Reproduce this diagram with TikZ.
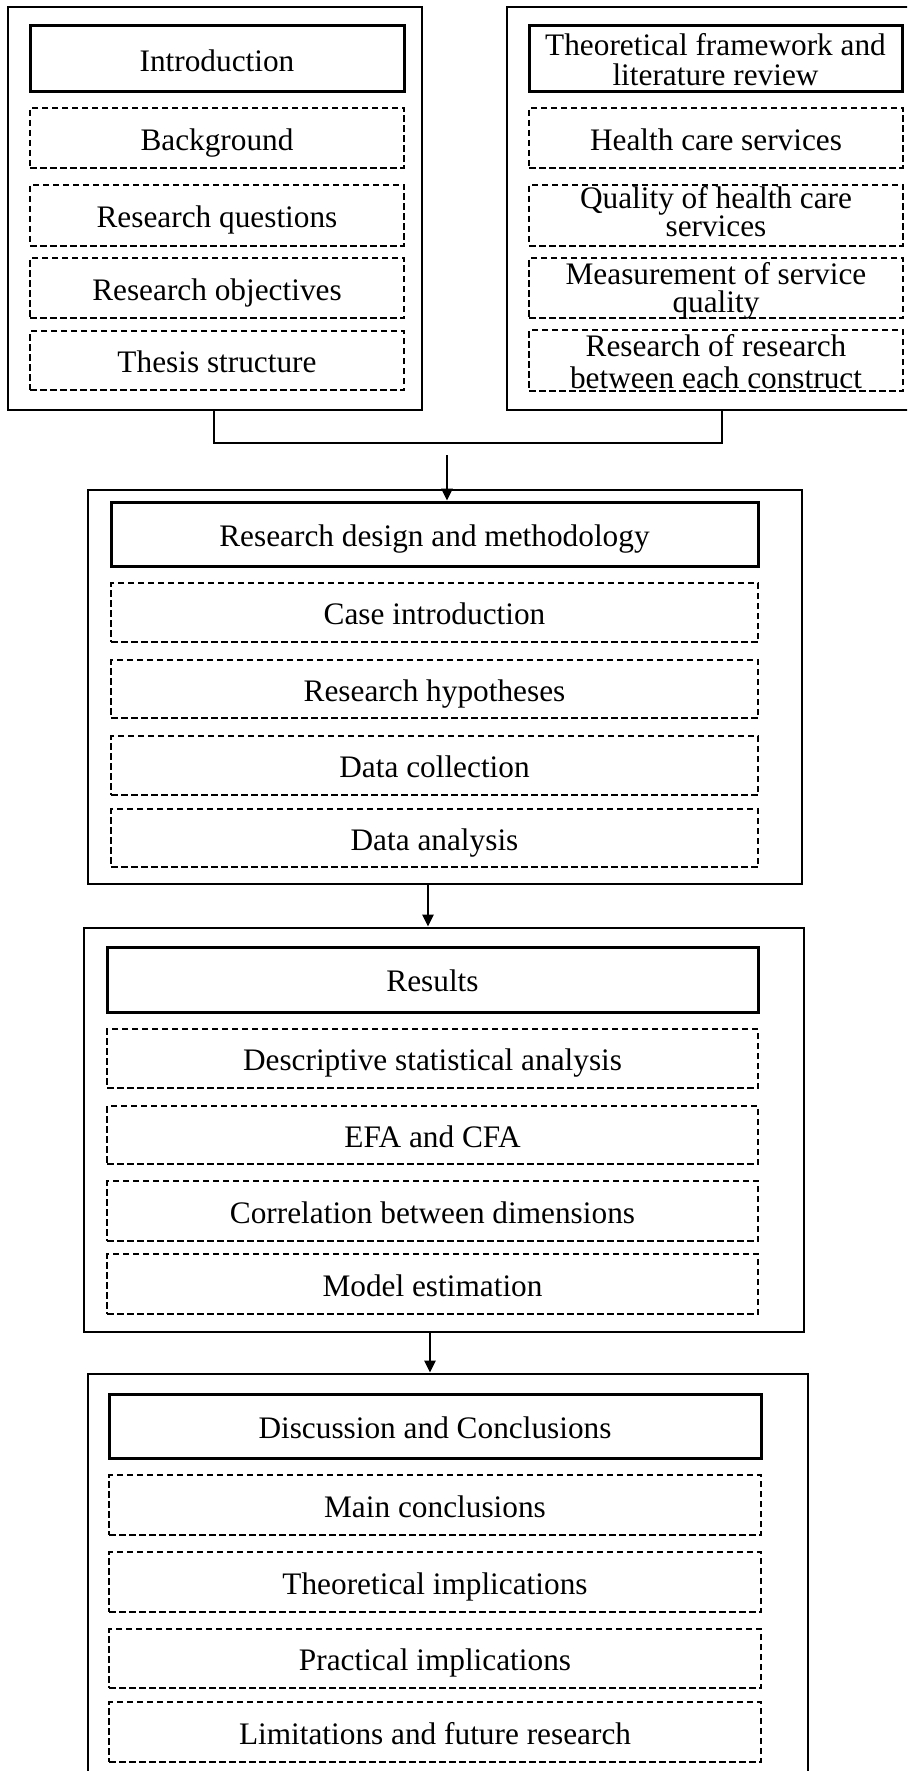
\documentclass[tikz,border=0pt]{standalone}
\usepackage{fontspec}
\setmainfont{Liberation Serif}
\usetikzlibrary{arrows.meta}
\begin{document}
\begin{tikzpicture}[x=1pt,y=-1pt,
  font=\fontsize{31.3}{30}\selectfont,
  outerbox/.style={draw, line width=2.8pt, inner sep=0pt},
  headbox/.style={draw, line width=3.0pt, inner sep=0pt, align=center, text height=25.5pt, text depth=1pt},
  subbox/.style={draw, line width=2.6pt, dash pattern=on 6.5pt off 3.5pt, inner sep=0pt, align=center, text height=25.5pt, text depth=1pt},
  two/.style n args={3}{font=\fontsize{31.3}{#1}\selectfont, text height=#2, text depth=#3},
  conn/.style={line width=2.6pt},
  arr/.style={line width=2.6pt, -{Triangle[width=11pt,length=12pt]}}]
\useasboundingbox (0,0) rectangle (907,1771);
\clip (0,0) rectangle (907,1771);
% ---------- top left ----------
\node[outerbox, minimum width=414pt, minimum height=403pt] (L) at (215,208.5) {};
\node[headbox, minimum width=374pt, minimum height=66pt] (Lh) at (217,59) {Introduction};
\node[subbox, minimum width=374pt, minimum height=60pt] (L1) at (217,138) {Background};
\node[subbox, minimum width=374pt, minimum height=61pt] (L2) at (217,215.5) {Research questions};
\node[subbox, minimum width=374pt, minimum height=60pt] (L3) at (217,288) {Research objectives};
\node[subbox, minimum width=374pt, minimum height=59pt] (L4) at (217,360.5) {Thesis structure};
% ---------- top right ----------
\node[outerbox, minimum width=405pt, minimum height=403pt] (R) at (709.5,208.5) {};
\node[headbox, two={30}{57pt}{3pt}, minimum width=373pt, minimum height=66pt] (Rh) at (715.5,59) {Theoretical framework and\\literature review};
\node[subbox, minimum width=374pt, minimum height=60pt] (R1) at (716,138) {Health care services};
\node[subbox, two={25}{46pt}{3pt}, minimum width=374pt, minimum height=61pt] (R2) at (716,215.5) {Quality of health care\\services};
\node[subbox, two={28}{51pt}{3pt}, minimum width=374pt, minimum height=60pt] (R3) at (716,288) {Measurement of service\\quality};
\node[subbox, two={32}{58pt}{3pt}, minimum width=374pt, minimum height=59pt] (R4) at (716,360.5) {Research of research\\between each construct};
% ---------- connector ----------
\coordinate (jL) at (214,443);
\coordinate (jR) at (722,443);
\coordinate (a1) at (447,455);
\draw[conn] (L.south -| jL) -- (jL) -- (jR) -- (R.south -| jR);
% ---------- box 2 ----------
\node[outerbox, minimum width=714pt, minimum height=394pt] (B2) at (445,687) {};
\node[headbox, minimum width=647pt, minimum height=64pt] (B2h) at (434.5,534) {Research design and methodology};
\node[subbox, minimum width=647pt, minimum height=59pt] (B21) at (434.5,612.5) {Case introduction};
\node[subbox, minimum width=647pt, minimum height=58pt] (B22) at (434.5,689) {Research hypotheses};
\node[subbox, minimum width=647pt, minimum height=59pt] (B23) at (434.5,765.5) {Data collection};
\node[subbox, minimum width=647pt, minimum height=58pt] (B24) at (434.5,838) {Data analysis};
\draw[arr] (a1) -- (B2h.north -| a1);
% ---------- box 3 ----------
\node[outerbox, minimum width=720pt, minimum height=404pt] (B3) at (444,1130) {};
\node[headbox, minimum width=651pt, minimum height=65pt] (B3h) at (432.5,979.5) {Results};
\node[subbox, minimum width=651pt, minimum height=59pt] (B31) at (432.5,1058.5) {Descriptive statistical analysis};
\node[subbox, minimum width=651pt, minimum height=58pt] (B32) at (432.5,1135) {EFA and CFA};
\node[subbox, minimum width=651pt, minimum height=60pt] (B33) at (432.5,1211) {Correlation between dimensions};
\node[subbox, minimum width=651pt, minimum height=60pt] (B34) at (432.5,1284) {Model estimation};
\coordinate (a2) at (428,0);
\draw[arr] (B2.south -| a2) -- (B3.north -| a2);
% ---------- box 4 ----------
\node[outerbox, minimum width=720pt, minimum height=430pt] (B4) at (448,1589) {};
\node[headbox, minimum width=652pt, minimum height=64pt] (B4h) at (435,1426) {Discussion and Conclusions};
\node[subbox, minimum width=652pt, minimum height=60pt] (B41) at (435,1505) {Main conclusions};
\node[subbox, minimum width=652pt, minimum height=60pt] (B42) at (435,1582) {Theoretical implications};
\node[subbox, minimum width=652pt, minimum height=59pt] (B43) at (435,1658.5) {Practical implications};
\node[subbox, minimum width=652pt, minimum height=60pt] (B44) at (435,1732) {Limitations and future research};
\coordinate (a3) at (430,0);
\draw[arr] (B3.south -| a3) -- (B4.north -| a3);
\end{tikzpicture}
\end{document}
